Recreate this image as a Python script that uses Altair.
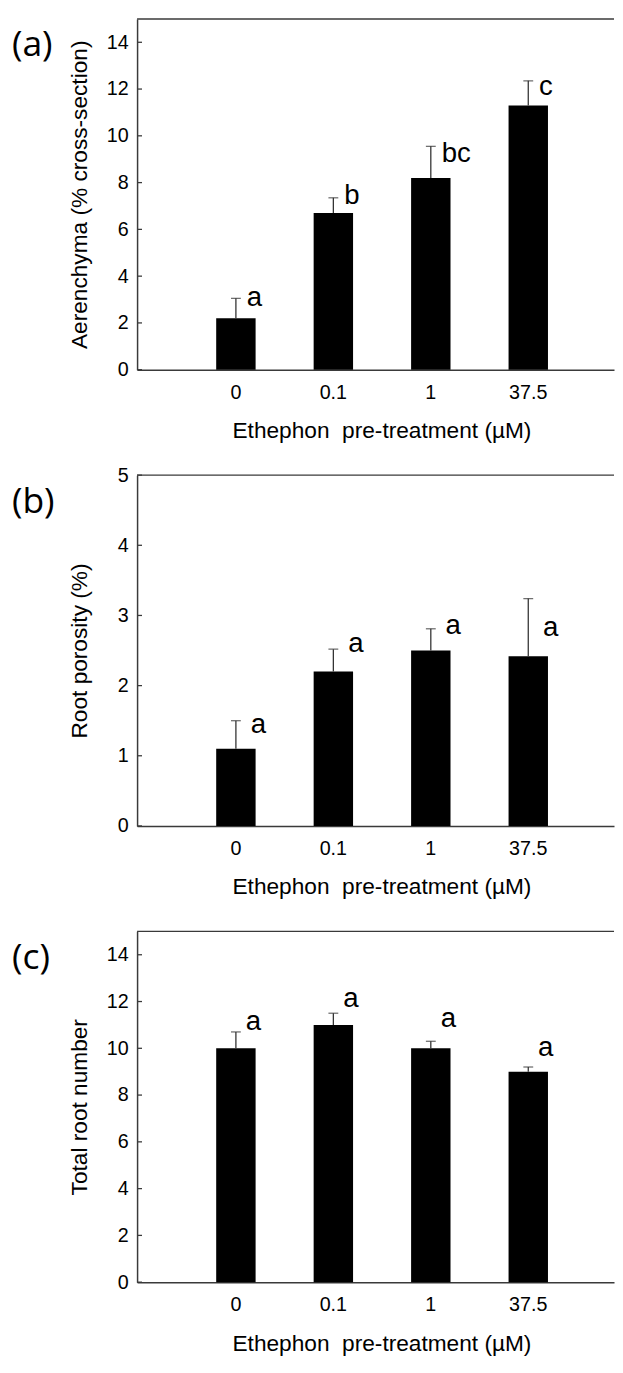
import altair as alt
import pandas as pd

cats = ["0", "0.1", "1", "37.5"]

aer_mean = [2.2, 6.7, 8.2, 11.3]
aer_err = [0.85, 0.65, 1.35, 1.05]
aer_letters = ["a", "b", "bc", "c"]
aer_letter_y = [3.06, 7.43, 9.23, 12.1]

por_mean = [1.1, 2.2, 2.5, 2.42]
por_err = [0.4, 0.32, 0.31, 0.82]
por_letters = ["a", "a", "a", "a"]
por_letter_y = [1.44, 2.59, 2.85, 2.82]

root_mean = [10.0, 11.0, 10.0, 9.0]
root_err = [0.7, 0.5, 0.3, 0.2]
root_letters = ["a", "a", "a", "a"]
root_letter_y = [11.12, 12.1, 11.26, 10.0]

aer_ticks = [0, 2, 4, 6, 8, 10, 12, 14]
por_ticks = [0, 1, 2, 3, 4, 5]
root_ticks = [0, 2, 4, 6, 8, 10, 12, 14]

FONT = "Liberation Sans"
AX = "#3a3a3a"
W, H = 484, 356


def panel(means, errs, letters, letter_y, ticks, ymax, ytitle, tag, dx, ytp):
    df = pd.DataFrame({
        "cat": cats,
        "mean": means,
        "top": [m + e for m, e in zip(means, errs)],
        "letter": letters,
        "ly": letter_y,
    })
    xenc = alt.X(
        "cat:N", sort=cats,
        scale=alt.Scale(paddingInner=0.5956, paddingOuter=0.7447, align=0.545),
        axis=alt.Axis(title="Ethephon\u00a0 pre-treatment (µM)", labelAngle=0,
                      ticks=False, tickSize=0, labelPadding=13, titlePadding=18,
                      titleX=248, titleAnchor="start", titleAlign="center",
                      domain=True, domainColor=AX, domainWidth=1.5),
    )
    yscale = alt.Scale(domain=[0, ymax], nice=False)
    yenc = alt.Y(
        "mean:Q", scale=yscale,
        axis=alt.Axis(title=ytitle, values=ticks, format="d", ticks=False, tickSize=0,
                      labelPadding=9, titlePadding=ytp, grid=False,
                      domain=True, domainColor=AX, domainWidth=1.5),
    )
    base = alt.Chart(df)
    bars = base.mark_bar(color="black").encode(x=xenc, y=yenc)
    err = base.mark_rule(color="#333", strokeWidth=1.3).encode(
        x=alt.X("cat:N", sort=cats), y="mean:Q", y2="top:Q")
    cap = base.mark_tick(color="#333", size=10, thickness=1.3).encode(
        x=alt.X("cat:N", sort=cats), y="top:Q")
    txt = base.mark_text(align="left", baseline="middle", dx=dx, fontSize=28,
                         font=FONT, color="black").encode(
        x=alt.X("cat:N", sort=cats), y="ly:Q", text="letter:N")
    tdf = pd.DataFrame({"t": ticks})
    tk = alt.Chart(tdf).mark_rule(color=AX, strokeWidth=1.3).encode(
        y="t:Q", x=alt.value(0), x2=alt.value(5))
    topb = alt.Chart(pd.DataFrame({"v": [ymax]})).mark_rule(
        color=AX, strokeWidth=1.5).encode(y="v:Q")
    lab = alt.Chart(pd.DataFrame({"tag": [tag]})).mark_text(
        align="left", baseline="middle", fontSize=36, font="Open Sans",
        color="black").encode(x=alt.value(-127), y=alt.value(27), text="tag:N")
    return alt.layer(bars, err, cap, txt, tk, topb, lab).properties(width=W, height=H)


pa = panel(aer_mean, aer_err, aer_letters, aer_letter_y, aer_ticks, 15,
           "Aerenchyma (% cross-section)", "(a)", 11, 15)
pb = panel(por_mean, por_err, por_letters, por_letter_y, por_ticks, 5,
           "Root porosity (%)", "(b)", 15, 26)
pc = panel(root_mean, root_err, root_letters, root_letter_y, root_ticks, 15,
           "Total root number", "(c)", 10, 15)

chart = alt.vconcat(pa, pb, pc, spacing=107, bounds="flush").configure_view(
    stroke=None
).configure_axis(
    labelFont=FONT, titleFont=FONT, labelFontSize=20, titleFontSize=23,
    labelColor="black", titleColor="black", titleFontWeight="normal",
).properties(padding={"left": 4, "top": 0, "right": 0, "bottom": 0})

chart.save("out.html", embed_options={"renderer": "svg", "actions": False})
